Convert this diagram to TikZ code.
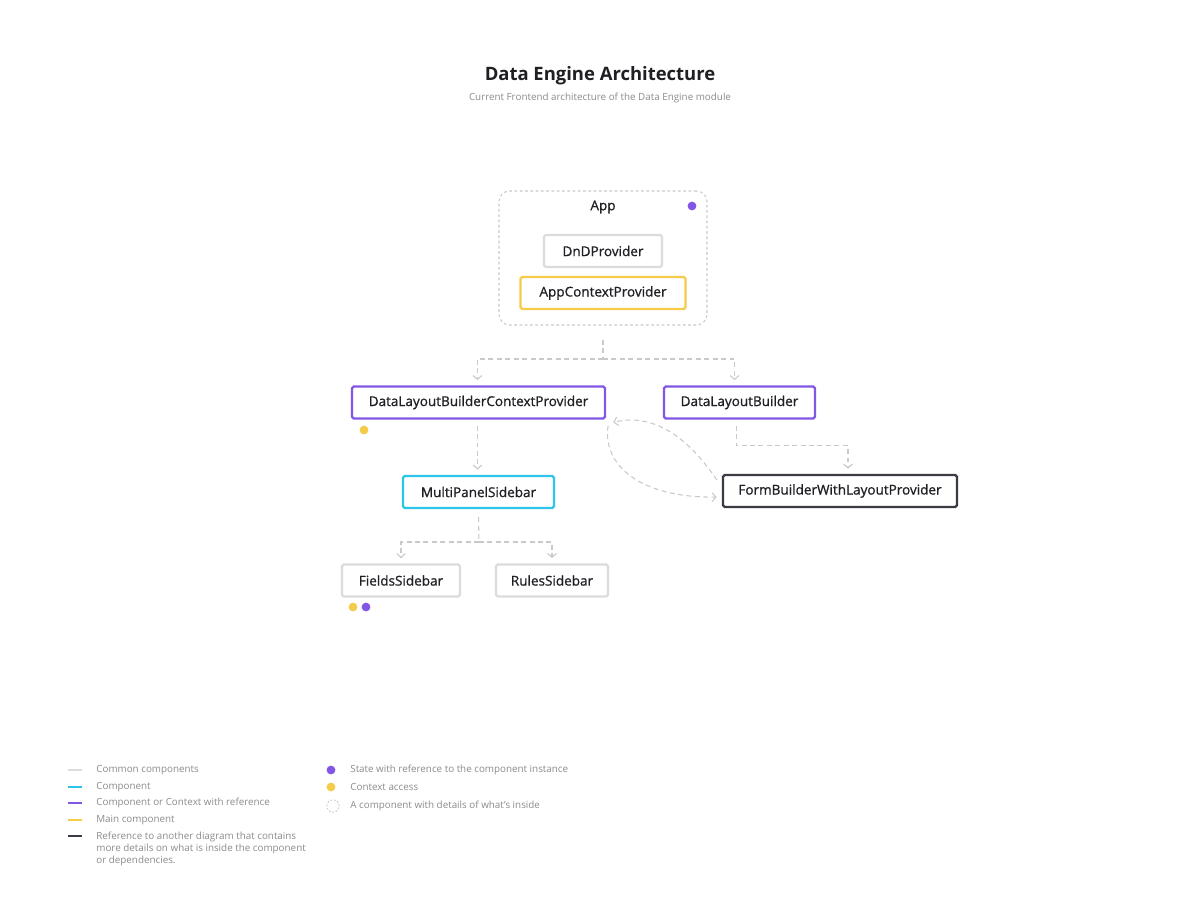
\documentclass[tikz,border=0pt]{standalone}
\usepackage{fontspec}
\setmainfont{Open Sans}
\newfontfamily\medfont{Open Sans}[FakeBold=0.9]
\usetikzlibrary{arrows.meta,calc}
\definecolor{lavender}{HTML}{8257E6}
\definecolor{sky}{HTML}{2CC4E8}
\definecolor{sun}{HTML}{F5CB4A}
\definecolor{ink}{HTML}{3A3A42}
\definecolor{cgray}{HTML}{DCDCDC}
\definecolor{lgray}{HTML}{C9C9C9}
\definecolor{txtgray}{HTML}{8C8C8C}
\definecolor{boxtext}{HTML}{1F1F24}
\begin{document}
\begin{tikzpicture}[x=0.02cm,y=-0.02cm,
		box/.style={draw=#1,line width=1.3pt,rounded corners=1pt,fill=white,minimum height=0.64cm,inner sep=0pt,text=boxtext,font=\medfont\fontsize{7.7}{8}\selectfont},
		box/.default=cgray,
		link/.style={draw=lgray,line width=0.6pt,dash pattern=on 2.8pt off 2pt},
		tip/.style={-{Straight Barb[length=2.2pt,width=5pt]},shorten >=3pt},
		dot/.style={circle,fill=#1,inner sep=0pt,minimum size=5pt},
		legend/.style={anchor=west,inner sep=0pt,text=txtgray,font=\fontsize{5.6}{6.8}\selectfont}]
			\useasboundingbox[fill=white] (0,0) rectangle (1200,916);
			% title
			\node[text=boxtext,font=\fontsize{10.5}{12}\selectfont\bfseries] (title) at (600,76) {Data Engine Architecture};
			\node[text=txtgray,font=\fontsize{5.6}{6}\selectfont] (subtitle) at (600,98) {Current Frontend architecture of the Data Engine module};
			% app container
			\node[draw=lgray,line width=0.6pt,dash pattern=on 1.5pt off 1.5pt,rounded corners=6pt,minimum width=4.16cm,minimum height=2.68cm] (app) at (603,258) {};
			\node[text=boxtext,font=\medfont\fontsize{7.7}{8}\selectfont] (applabel) at (603,207) {App};
			\node[dot=lavender] (appstate) at (692,206) {};
			\node[box,minimum width=2.36cm] (dnd) at (603,251) {DnDProvider};
			\node[box=sun,minimum width=3.3cm] (appctx) at (603,293) {AppContextProvider};
			% components
			\node[box=lavender,minimum width=5.06cm] (dlbcp) at (478.5,402.5) {DataLayoutBuilderContextProvider};
			\node[box=lavender,minimum width=3.02cm] (dlb) at (739.5,402.5) {DataLayoutBuilder};
			\node[box=sky,minimum width=3.02cm] (mps) at (478.5,492) {MultiPanelSidebar};
			\node[box=ink,minimum width=4.68cm] (fb) at (840,491) {FormBuilderWithLayoutProvider};
			\node[box,minimum width=2.36cm] (fields) at (401,580.5) {FieldsSidebar};
			\node[box,minimum width=2.24cm] (rules) at (552,580.5) {RulesSidebar};
			\node[dot=sun] (dlbcpctx) at (364,430) {};
			\node[dot=sun] (fieldsctx) at (353,607) {};
			\node[dot=lavender] (fieldsstate) at (366,607) {};
			% connectors
			\coordinate (appout) at (603,340);
			\coordinate (split1) at (603,359);
			\coordinate (split2) at (479,542);
			\draw[link] (appout) -- (split1);
			\draw[link,tip] (split1) -| ($(dlbcp.north)+(-1,0)$);
			\draw[link,tip] (split1) -| ($(dlb.north)+(-5,0)$);
			\draw[link,tip] ($(dlbcp.south)+(-1,6)$) -- ($(mps.north)+(-1,0)$);
			\draw[link,tip] ($(dlb.south)+(-3,6)$) |- ($(fb.north)+(8,-28)$) -- ($(fb.north)+(8,0)$);
			\draw[link] ($(mps.south)+(0,8)$) -- (split2);
			\foreach \n in {fields,rules} \draw[link,tip] (split2) -| (\n.north);
			\draw[link,tip] ($(dlbcp.south east)+(2,6)$) .. controls (602,465) and (640,498) .. ($(fb.west)+(0,6)$);
			\draw[link,tip] ($(fb.west)+(-5,-11)$) .. controls (690,440) and (655,412) .. ($(dlbcp.south east)+(2,4)$);
			% legend
			\foreach \y/\c in {770/cgray,787/sky,803/lavender,820/sun,836/ink} \draw[\c,line width=1.3pt] (68,\y) -- (82,\y);
			\node[legend] (lg1) at (96,770) {Common components};
			\node[legend] (lg2) at (96,787) {Component};
			\node[legend] (lg3) at (96,803) {Component or Context with reference};
			\node[legend] (lg4) at (96,820) {Main component};
			\node[legend,anchor=north west,align=left] (lg5) at (96,832) {Reference to another diagram that contains\\more details on what is inside the component\\or dependencies.};
			\node[dot=lavender] (key1) at (331,770) {};
			\node[dot=sun] (key2) at (331,787) {};
			\node[circle,draw=lgray,line width=0.5pt,dash pattern=on 1pt off 1pt,minimum size=7pt,inner sep=0pt] (key3) at (333,806) {};
			\node[legend] (lg6) at (350,770) {State with reference to the component instance};
			\node[legend] (lg7) at (350,787) {Context access};
			\node[legend] (lg8) at (350,806) {A component with details of what's inside};
		\end{tikzpicture}
\end{document}
